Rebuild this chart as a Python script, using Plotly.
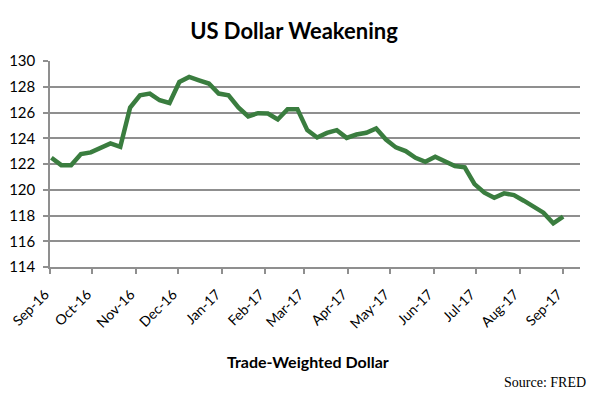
import plotly.graph_objects as go

week_dates = [
    "2016-09-02", "2016-09-09", "2016-09-16", "2016-09-23", "2016-09-30",
    "2016-10-07", "2016-10-14", "2016-10-21", "2016-10-28", "2016-11-04",
    "2016-11-11", "2016-11-18", "2016-11-25", "2016-12-02", "2016-12-09",
    "2016-12-16", "2016-12-23", "2016-12-30", "2017-01-06", "2017-01-13",
    "2017-01-20", "2017-01-27", "2017-02-03", "2017-02-10", "2017-02-17",
    "2017-02-24", "2017-03-03", "2017-03-10", "2017-03-17", "2017-03-24",
    "2017-03-31", "2017-04-07", "2017-04-14", "2017-04-21", "2017-04-28",
    "2017-05-05", "2017-05-12", "2017-05-19", "2017-05-26", "2017-06-02",
    "2017-06-09", "2017-06-16", "2017-06-23", "2017-06-30", "2017-07-07",
    "2017-07-14", "2017-07-21", "2017-07-28", "2017-08-04", "2017-08-11",
    "2017-08-18", "2017-08-25", "2017-09-01",
]

dollar_index = [
    122.48, 121.91, 121.91, 122.77, 122.90, 123.29, 123.60, 123.33, 126.39, 127.34,
    127.47, 126.95, 126.74, 128.37, 128.76, 128.50, 128.25, 127.47, 127.34, 126.40,
    125.70, 125.95, 125.92, 125.46, 126.26, 126.26, 124.63, 124.06, 124.42, 124.63,
    124.03, 124.29, 124.42, 124.76, 123.90, 123.29, 123.00, 122.48, 122.17, 122.56,
    122.22, 121.84, 121.74, 120.44, 119.77, 119.38, 119.72, 119.59, 119.15, 118.68,
    118.22, 117.39, 117.91,
]

month_ticks = [
    "2016-09-01", "2016-10-01", "2016-11-01", "2016-12-01", "2017-01-01",
    "2017-02-01", "2017-03-01", "2017-04-01", "2017-05-01", "2017-06-01",
    "2017-07-01", "2017-08-01", "2017-09-01",
]
month_labels = [
    "Sep-16", "Oct-16", "Nov-16", "Dec-16", "Jan-17", "Feb-17", "Mar-17",
    "Apr-17", "May-17", "Jun-17", "Jul-17", "Aug-17", "Sep-17",
]
y_ticks = [114, 116, 118, 120, 122, 124, 126, 128, 130]

FONT = "Lato, 'Open Sans', sans-serif"
GRID = "#8f8f8f"

fig = go.Figure()
fig.add_trace(go.Scatter(
    x=week_dates, y=dollar_index, mode="lines",
    line=dict(color="#3a7d3f", width=4.5),
    hoverinfo="skip", showlegend=False,
))

# the page body has an 8px default margin, so the figure is sized/offset for it
fig.update_layout(
    width=590, height=385, autosize=False,
    margin=dict(l=42, r=18, t=53, b=126, pad=0, autoexpand=False),
    paper_bgcolor="white", plot_bgcolor="white",
    font=dict(family=FONT, color="#000000"),
    title=dict(
        text="<b>US Dollar Weakening</b>",
        x=0.4847, xref="container", xanchor="center",
        y=0.940, yref="container", yanchor="middle",
        font=dict(size=22, family=FONT, color="#000000"),
    ),
    xaxis=dict(
        type="date", automargin=False, ticklabeloverflow="allow",
        range=["2016-09-01", "2017-09-13"],
        tickvals=month_ticks, ticktext=month_labels,
        tickangle=-45,
        tickfont=dict(size=14, family=FONT, color="#000000"),
        ticks="outside", ticklen=5, tickwidth=1.5, tickcolor=GRID,
        ticklabelstandoff=7, ticklabelshift=-5,
        showgrid=False, zeroline=False,
        showline=True, linecolor=GRID, linewidth=1.5,
    ),
    yaxis=dict(
        range=[114, 130], automargin=False, ticklabeloverflow="allow",
        tickvals=y_ticks,
        tickfont=dict(size=15, family=FONT, color="#000000"),
        ticks="outside", ticklen=5, tickwidth=1.5, tickcolor=GRID,
        ticklabelstandoff=5,
        showgrid=True, gridcolor=GRID, gridwidth=1.5,
        zeroline=False,
        showline=True, linecolor=GRID, linewidth=1.5,
    ),
    annotations=[
        dict(text="<b>Trade-Weighted Dollar</b>", xref="paper", yref="paper",
             x=0.487, y=-0.461, xanchor="center", yanchor="middle",
             showarrow=False, font=dict(size=16, family=FONT, color="#000000")),
        dict(text="Source: FRED", xref="paper", yref="paper",
             x=1.015, y=-0.563, xanchor="right", yanchor="middle",
             showarrow=False,
             font=dict(size=14, family="'Liberation Serif', 'DejaVu Serif', serif",
                       color="#000000")),
    ],
)

fig.write_html("out.html")
